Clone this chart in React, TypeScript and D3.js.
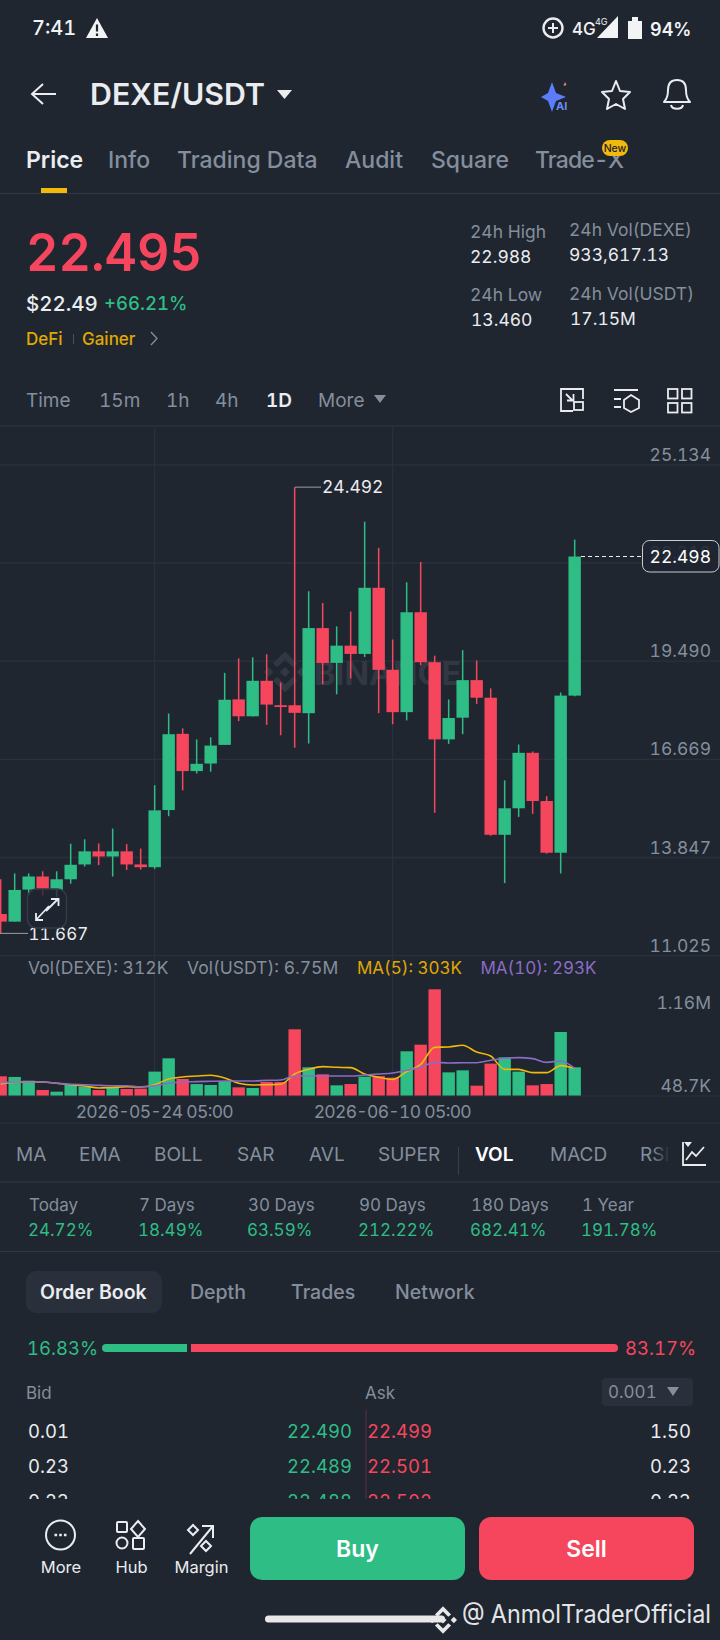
import * as d3 from "d3";

const BG = "#1f2630";
const GREEN = "#2ebd85";
const RED = "#f6465d";
const GRAY = "#848e9c";
const LIGHT = "#eaecef";
const GRID = "#2b313c";
const YELLOW = "#f0b90b";
const PURPLE = "#8b6cc4";
const FONT = "Inter, 'Noto Sans', sans-serif";

// daily candles, oldest first
const opens = [12.222, 12.004, 12.925, 13.301, 12.915, 13.222, 13.648, 14.024, 13.876, 14.024, 13.648, 13.569, 15.212, 17.401, 16.331, 16.549, 17.084, 18.391, 17.906, 18.926, 18.223, 18.223, 17.995, 20.441, 19.44, 19.936, 19.698, 21.599, 19.242, 18.025, 20.896, 19.46, 17.242, 17.866, 18.945, 18.44, 14.5, 15.262, 16.856, 15.47, 13.985, 18.5];
const closes = [12.004, 12.915, 13.301, 12.945, 13.222, 13.638, 14.024, 13.876, 14.024, 13.648, 13.569, 15.202, 17.391, 16.331, 16.539, 17.064, 18.381, 17.906, 18.926, 18.242, 18.173, 18.005, 20.441, 19.44, 19.936, 19.698, 21.599, 19.242, 18.025, 20.896, 19.46, 17.242, 17.856, 18.945, 18.44, 14.5, 15.262, 16.856, 15.47, 13.985, 18.5, 22.498];
const highs = [13.222, 13.39, 13.39, 13.45, 13.45, 14.242, 14.371, 14.252, 14.678, 14.232, 14.103, 15.925, 17.985, 17.559, 17.242, 17.302, 19.153, 19.569, 19.599, 19.688, 18.876, 24.492, 21.5, 21.163, 20.49, 20.916, 23.5, 22.748, 20.114, 21.757, 22.342, 19.648, 18.391, 19.807, 19.51, 18.708, 16.064, 17.094, 16.896, 15.609, 18.589, 22.985];
const lows = [11.667, 12.0, 12.757, 12.757, 12.707, 13.093, 13.589, 13.628, 13.301, 13.489, 13.499, 13.519, 15.034, 15.777, 16.262, 16.312, 17.084, 17.767, 17.9, 17.658, 17.361, 17.005, 17.124, 18.827, 18.539, 18.995, 19.609, 17.995, 17.678, 17.787, 19.371, 15.133, 17.114, 17.391, 18.262, 14.47, 13.113, 15.014, 15.103, 13.955, 13.39, 18.48];
const volumes = [214, 207, 167, 65, 47, 120, 101, 65, 91, 76, 80, 265, 410, 185, 130, 120, 163, 94, 87, 152, 152, 725, 312, 236, 116, 130, 210, 217, 199, 486, 558, 1160, 257, 279, 112, 352, 420, 265, 116, 130, 696, 312];
const ma5 = [130, 149, 152, 152, 138, 123, 109, 87, 94, 101, 98, 123, 185, 207, 217, 225, 196, 138, 120, 123, 127, 239, 290, 319, 312, 308, 239, 203, 181, 265, 344, 529, 533, 551, 478, 435, 290, 290, 254, 254, 330, 301];
const ma10 = [145, 152, 152, 152, 138, 127, 123, 116, 112, 112, 101, 112, 138, 152, 156, 160, 163, 163, 163, 170, 174, 217, 217, 217, 217, 217, 228, 239, 250, 279, 312, 366, 359, 362, 362, 388, 410, 417, 406, 366, 381, 301];

const priceTicks = ["25.134", "22.312", "19.490", "16.669", "13.847", "11.025"];
const xTicks = [
  { index: 11, label: "2026-05-24 05:00" },
  { index: 28, label: "2026-06-10 05:00" },
];

const topTabs = [["Price", 26], ["Info", 108], ["Trading Data", 177], ["Audit", 345], ["Square", 431], ["Trade-X", 535]] as const;
const intervals = [["Time", 26], ["15m", 99], ["1h", 166], ["4h", 215], ["1D", 266], ["More", 318]] as const;
const indicators = [["MA", 16], ["EMA", 79], ["BOLL", 154], ["SAR", 237], ["AVL", 309], ["SUPER", 378], ["VOL", 475], ["MACD", 550], ["RSI", 640]] as const;
const periods = [["Today", "24.72%", 29], ["7 Days", "18.49%", 139], ["30 Days", "63.59%", 248], ["90 Days", "212.22%", 359], ["180 Days", "682.41%", 471], ["1 Year", "191.78%", 582]] as const;
const bookTabs = [["Depth", 190], ["Trades", 291], ["Network", 395]] as const;
const bookRows = [["0.01", "22.490", "22.499", "1.50"], ["0.23", "22.489", "22.501", "0.23"], ["0.23", "22.488", "22.502", "0.23"]];

const x = d3.scaleLinear().domain([0, 41]).range([0.67, 574.67]);
const y = d3.scaleLinear().domain([11.025, 25.134]).range([955.7, 464.8]);
const v = d3.scaleLinear().domain([0, 1160]).range([1096, 989.3]);

const volLine = d3.line<number>().x((_, i) => x(i)).y((d) => v(d)).curve(d3.curveMonotoneX);

const T = ({ x, y, s = 18, c = GRAY, w = 400, a = "start", children, ...rest }: any) => (
  <text x={x} y={y} fontSize={s} fill={c} fontWeight={w} textAnchor={a} {...rest}>
    {children}
  </text>
);

function BinanceLogo({ cx, cy, r, fill }: { cx: number; cy: number; r: number; fill: string }) {
  const d = (dx: number, dy: number, s: number) =>
    `M${cx + dx},${cy + dy - s}L${cx + dx + s},${cy + dy}L${cx + dx},${cy + dy + s}L${cx + dx - s},${cy + dy}Z`;
  const u = r / 4;
  const chevron = (sign: number) =>
    `M${cx - 2.3 * u},${cy + sign * 1.6 * u}L${cx},${cy + sign * 3.9 * u}L${cx + 2.3 * u},${cy + sign * 1.6 * u}L${cx + 1.5 * u},${cy + sign * 0.9 * u}L${cx},${cy + sign * 2.4 * u}L${cx - 1.5 * u},${cy + sign * 0.9 * u}Z`;
  return (
    <g fill={fill}>
      <path d={d(0, 0, u)} />
      <path d={d(-3.1 * u, 0, 0.9 * u)} />
      <path d={d(3.1 * u, 0, 0.9 * u)} />
      <path d={chevron(-1)} />
      <path d={chevron(1)} />
    </g>
  );
}

function Candles() {
  return (
    <g>
      {opens.map((o, i) => {
        const c = closes[i];
        const color = c >= o ? GREEN : RED;
        const top = y(Math.max(o, c));
        const h = Math.max(y(Math.min(o, c)) - top, 1.5);
        return (
          <g key={i}>
            <line x1={x(i)} x2={x(i)} y1={y(highs[i])} y2={y(lows[i])} stroke={color} strokeWidth={1.5} />
            <rect x={x(i) - 6.2} y={top} width={12.4} height={h} fill={color} />
          </g>
        );
      })}
    </g>
  );
}

function Volumes() {
  return (
    <g>
      {volumes.map((d, i) => (
        <rect key={i} x={x(i) - 6.2} y={v(d)} width={12.4} height={v(0) - v(d)} fill={closes[i] >= opens[i] ? GREEN : RED} />
      ))}
      <path d={volLine(ma5) ?? ""} fill="none" stroke={YELLOW} strokeWidth={1.6} />
      <path d={volLine(ma10) ?? ""} fill="none" stroke={PURPLE} strokeWidth={1.6} />
    </g>
  );
}

function StatusAndHeader() {
  const ic = { fill: "none", stroke: LIGHT, strokeWidth: 2 };
  return (
    <g>
      <T x={32} y={35} s={20} c="#f2f3f5" w={500}>7:41</T>
      <path d="M97,18L108,38H86Z" fill="#f2f3f5" />
      <path d="M97,24.5V31.5M97,33.5V36" stroke={BG} strokeWidth={2.2} />
      <circle cx={553} cy={28} r={9.5} {...ic} strokeWidth={2.4} />
      <path d="M548,28H558M553,23V33" stroke={LIGHT} strokeWidth={2} />
      <T x={572} y={35} s={17} c="#f2f3f5" w={500}>4G</T>
      <T x={595} y={25} s={9} c="#f2f3f5">4G</T>
      <path d="M618,16V38H597Z" fill="#f2f3f5" />
      <path d="M628,21H632V17H638V21H642V39H628Z" fill="#f2f3f5" />
      <T x={650} y={36} s={18} c="#f2f3f5" w={600}>94%</T>

      <path d="M56,94H33M43,84L32,94L43,104" {...ic} />
      <T x={90} y={105} s={30} c={LIGHT} w={600} textLength={175} lengthAdjust="spacingAndGlyphs">DEXE/USDT</T>
      <path d="M277,90H292L284.5,99Z" fill={LIGHT} />
      <path d="M552,82L556,93L566,97L556,101L552,112L548,101L541,97L548,93Z" fill="#5c7cfa" />
      <T x={556} y={110} s={11} c="#6d8cf5" w={700}>AI</T>
      <path d="M565,82l1.5,3l-3,1z" fill="#e88" />
      <path d="M616,81L620,91L630,92L623,99L625,109L616,104L607,109L609,99L602,92L612,91Z" {...ic} strokeLinejoin="round" />
      <path d="M664,102C668,98 668,94 668,90C668,82 672,80 677,80C682,80 686,82 686,90C686,94 686,98 690,102Z M671,105C672,110 682,110 683,105" {...ic} strokeLinejoin="round" />

      {topTabs.map(([label, tx], i) => (
        <T key={label} x={tx} y={168} s={23} c={i === 0 ? LIGHT : GRAY} w={i === 0 ? 600 : 500} textLength={label === "Trade-X" ? 89 : undefined}>{label}</T>
      ))}
      <rect x={41} y={188} width={26} height={5} fill={YELLOW} />
      <line x1={0} x2={720} y1={193.5} y2={193.5} stroke="#323843" />
      <rect x={602} y={140} width={26} height={16} rx={8} fill={YELLOW} />
      <T x={615} y={152} s={10.5} c="#1e2329" a="middle" w={500}>New</T>
    </g>
  );
}

function Summary() {
  return (
    <g>
      <T x={26} y={271} s={52} c={RED} w={600} textLength={176} lengthAdjust="spacingAndGlyphs">22.495</T>
      <T x={26} y={311} s={20.5} c={LIGHT} w={500}>$22.49</T>
      <T x={104} y={310} s={18.5} c={GREEN} w={500}>+66.21%</T>
      <T x={26} y={345} s={17} c="#e0a800" w={500}>DeFi</T>
      <line x1={73.5} x2={73.5} y1={334} y2={344} stroke="#4a4f58" />
      <T x={82} y={345} s={17} c="#e0a800" w={500}>Gainer</T>
      <path d="M151,332L157,338.5L151,345" fill="none" stroke={GRAY} strokeWidth={1.3} />

      <T x={470} y={238} s={17.5}>24h High</T>
      <T x={470} y={263} s={17.5} c={LIGHT}>22.988</T>
      <T x={569} y={236} s={17.5}>24h Vol(DEXE)</T>
      <T x={569} y={261} s={17.5} c={LIGHT}>933,617.13</T>
      <T x={470} y={301} s={17.5}>24h Low</T>
      <T x={471} y={326} s={17.5} c={LIGHT}>13.460</T>
      <T x={569} y={300} s={17.5}>24h Vol(USDT)</T>
      <T x={570} y={325} s={17.5} c={LIGHT}>17.15M</T>

      {intervals.map(([label, tx]) => (
        <T key={label} x={tx} y={407} s={19} c={label === "1D" ? LIGHT : GRAY} w={label === "1D" ? 600 : 400}>{label}</T>
      ))}
      <path d="M374,395H386L380,403Z" fill={GRAY} />
      <g fill="none" stroke={LIGHT} strokeWidth={1.8}>
        <path d="M573,411H561V389H583V399" />
        <rect x={574} y={402} width={9} height={8} />
        <path d="M566,394L573,401M567,400.5H573.5V394" />
        <path d="M614,390H638M614,399H621M614,407H621" />
        <path d="M631,395L639,400V408L631,412L624,408V400Z" />
        <rect x={668} y={389} width={9.5} height={9.5} />
        <rect x={682} y={389} width={9.5} height={9.5} />
        <rect x={668} y={403} width={9.5} height={9.5} />
        <rect x={682} y={403} width={9.5} height={9.5} />
      </g>
    </g>
  );
}

function PriceChart() {
  const lastY = y(closes[closes.length - 1]);
  const hiY = y(d3.max(highs)!);
  const loY = y(d3.min(lows)!);
  return (
    <g>
      <line x1={0} x2={720} y1={426} y2={426} stroke={GRID} strokeWidth={1.5} />
      {priceTicks.map((t) => (
        <line key={t} x1={0} x2={720} y1={y(+t)} y2={y(+t)} stroke={GRID} strokeWidth={1.3} />
      ))}
      {xTicks.map((t) => (
        <line key={t.index} x1={x(t.index)} x2={x(t.index)} y1={426} y2={1096} stroke={GRID} strokeWidth={1.3} />
      ))}
      <BinanceLogo cx={285} cy={672} r={21} fill="#323843" />
      <T x={314} y={685} s={32} c="#323843" w={700} textLength={147} lengthAdjust="spacingAndGlyphs">BINANCE</T>
      <Candles />
      {priceTicks.map((t) => (
        <T key={t} x={711} y={y(+t) - 4} s={17.5} a="end">{t}</T>
      ))}
      <line x1={581} x2={642} y1={lastY} y2={lastY} stroke={LIGHT} strokeDasharray="4 3" />
      <rect x={642.5} y={540.5} width={76.5} height={31.5} rx={7} fill={BG} fillOpacity={0.88} stroke="#c9ccd1" />
      <T x={711} y={563} s={17.5} c="#ffffff" a="end">22.498</T>

      <path d={`M295,${hiY}H321`} stroke="#9aa0a8" fill="none" />
      <T x={322} y={hiY + 6} s={17.5} c={LIGHT}>24.492</T>
      <path d={`M0,${loY}H28`} stroke="#9aa0a8" fill="none" />
      <T x={28.5} y={loY + 7} s={17} c={LIGHT}>11.667</T>

      <rect x={27.5} y={889} width={39} height={39} rx={9} fill={BG} fillOpacity={0.75} stroke="#343a46" strokeWidth={1.5} />
      <path d="M36,920L49,906M58,899L46,911M36,913V920H43M51,899H58.5V906" fill="none" stroke={LIGHT} strokeWidth={1.8} />

      <T x={28} y={974} s={17.5}>Vol(DEXE): 312K</T>
      <T x={187} y={974} s={17.5}>Vol(USDT): 6.75M</T>
      <T x={357} y={974} s={17} c="#e0a800">MA(5): 303K</T>
      <T x={480.5} y={974} s={17} c={PURPLE}>MA(10): 293K</T>
      <T x={711} y={1009} s={17.5} a="end">1.16M</T>
      <T x={711} y={1091.5} s={17.5} a="end">48.7K</T>
      <Volumes />
      <line x1={0} x2={720} y1={1096} y2={1096} stroke={GRID} strokeWidth={1.2} />
      {xTicks.map((t) => (
        <T key={t.index} x={x(t.index)} y={1118} s={17.5} a="middle" textLength={158}>{t.label}</T>
      ))}
      <line x1={0} x2={720} y1={1123} y2={1123} stroke={GRID} strokeWidth={1.2} />
    </g>
  );
}

function Lower() {
  return (
    <g>
      {indicators.map(([label, tx]) => (
        <T key={label} x={tx} y={1161} s={19} c={label === "VOL" ? "#ffffff" : GRAY} w={label === "VOL" ? 600 : 400}>{label}</T>
      ))}
      <line x1={458.5} x2={458.5} y1={1147} y2={1175} stroke="#3a404b" />
      <defs>
        <linearGradient id="fadeRsi" x1="0" x2="1" y1="0" y2="0">
          <stop offset="0" stopColor={BG} stopOpacity={0} />
          <stop offset="1" stopColor={BG} />
        </linearGradient>
      </defs>
      <rect x={652} y={1145} width={18} height={22} fill="url(#fadeRsi)" />
      <rect x={670} y={1140} width={50} height={30} fill={BG} />
      <path d="M683,1142V1165H706M686,1160L692,1152L696,1156L704,1147" fill="none" stroke={LIGHT} strokeWidth={1.8} />
      <path d="M684,1142H692L688,1147Z" fill={LIGHT} />
      <line x1={0} x2={720} y1={1182} y2={1182} stroke="#323843" />

      {periods.map(([label, val, tx]) => (
        <g key={label}>
          <T x={tx} y={1211} s={17}>{label}</T>
          <T x={tx - 1} y={1236} s={17} c={GREEN}>{val}</T>
        </g>
      ))}
      <line x1={0} x2={720} y1={1251.5} y2={1251.5} stroke="#323843" />

      <rect x={26} y={1271} width={136} height={42} rx={10} fill="#2a303b" />
      <T x={40} y={1299} s={19.5} c={LIGHT} w={600}>Order Book</T>
      {bookTabs.map(([label, tx]) => (
        <T key={label} x={tx} y={1299} s={19.5} w={500}>{label}</T>
      ))}

      <T x={27} y={1355} s={18.5} c={GREEN}>16.83%</T>
      <rect x={102} y={1344} width={85} height={8} rx={4} fill={GREEN} />
      <rect x={183} y={1344} width={4} height={8} fill={GREEN} />
      <rect x={191} y={1344} width={427} height={8} rx={4} fill={RED} />
      <rect x={191} y={1344} width={4} height={8} fill={RED} />
      <T x={625} y={1355} s={18.5} c={RED}>83.17%</T>

      <T x={26} y={1399} s={17}>Bid</T>
      <T x={365} y={1399} s={17}>Ask</T>
      <rect x={602} y={1378} width={91} height={28} rx={4} fill="#2a303b" />
      <T x={608} y={1398} s={17}>0.001</T>
      <path d="M667,1387H679L673,1396Z" fill={GRAY} />

      <clipPath id="bookClip">
        <rect x={0} y={1408} width={720} height={91} />
      </clipPath>
      <g clipPath="url(#bookClip)">
        <line x1={366} x2={366} y1={1410} y2={1499} stroke="#4a2c38" strokeWidth={1.5} />
        {bookRows.map((r, i) => {
          const ry = 1438 + i * 35;
          return (
            <g key={i}>
              <T x={28} y={ry} s={18.5} c={LIGHT}>{r[0]}</T>
              <T x={352} y={ry} s={18.5} c={GREEN} a="end">{r[1]}</T>
              <T x={367} y={ry} s={18.5} c={RED}>{r[2]}</T>
              <T x={691} y={ry} s={18.5} c={LIGHT} a="end">{r[3]}</T>
            </g>
          );
        })}
      </g>

      <g fill="none" stroke={LIGHT} strokeWidth={2}>
        <circle cx={60.5} cy={1535} r={14.5} />
        <rect x={117} y={1522} width={10} height={10} rx={1} />
        <path d="M138,1521L145,1529L138,1537L131,1529Z" />
        <circle cx={122} cy={1543} r={5.5} />
        <rect x={133} y={1538} width={11} height={11} rx={1} />
        <path d="M190,1554L213,1526M202,1526H213V1538" />
        <path d="M193,1525L198,1530L193,1535L188,1530Z" />
        <path d="M206,1541L211,1546L206,1551L201,1546Z" />
      </g>
      <path d="M54.5,1535h2.6M59.2,1535h2.6M63.9,1535h2.6" stroke={LIGHT} strokeWidth={2.6} />
      <T x={61} y={1573} s={16.5} c={LIGHT} a="middle">More</T>
      <T x={131.5} y={1573} s={16.5} c={LIGHT} a="middle">Hub</T>
      <T x={201.5} y={1573} s={16.5} c={LIGHT} a="middle">Margin</T>

      <rect x={250} y={1517} width={215} height={63} rx={12} fill={GREEN} />
      <T x={357.5} y={1557} s={23} c="#ffffff" w={600} a="middle">Buy</T>
      <rect x={479} y={1517} width={215} height={63} rx={12} fill={RED} />
      <T x={586.5} y={1557} s={23} c="#ffffff" w={600} a="middle">Sell</T>

      <rect x={265} y={1615.5} width={180} height={7} rx={3.5} fill="#e8e8e8" />
      <BinanceLogo cx={443} cy={1620} r={14} fill="#e8e8e8" />
      <T x={462} y={1623} s={25.5} c="#e2e4e7" textLength={249} lengthAdjust="spacingAndGlyphs">@ AnmolTraderOfficial</T>
    </g>
  );
}

export default function App() {
  return (
    <svg
      width={720}
      height={1640}
      fontFamily={FONT}
      style={{ position: "absolute", left: 0, top: 0, display: "block", background: BG, fontVariantNumeric: "tabular-nums" }}
    >
      <StatusAndHeader />
      <Summary />
      <PriceChart />
      <Lower />
    </svg>
  );
}
